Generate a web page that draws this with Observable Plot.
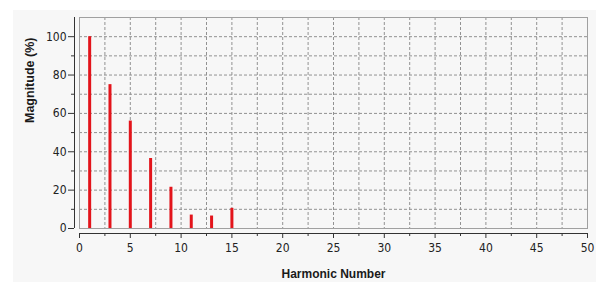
<!DOCTYPE html>
<html>
<head>
<meta charset="utf-8">
<script src="https://cdn.jsdelivr.net/npm/d3@7"></script>
<script src="https://cdn.jsdelivr.net/npm/@observablehq/plot@0.6"></script>
<style>
  html, body { margin: 0; padding: 0; background: #ffffff; width: 596px; height: 282px; overflow: hidden; }
  #chart { position: absolute; left: 13px; top: 10px; width: 583px; height: 272px; background: #f7f7f7; }
  #chart svg { background: transparent; display: block; font-stretch: condensed; }
</style>
</head>
<body>
<div id="chart"></div>
<script>
// Data
const harmonics = [1, 3, 5, 7, 9, 11, 13, 15];
const magnitudes = [100, 75, 56, 36.5, 21.5, 7, 6.5, 10.5];

// Tick labels / ticks
const xTicks = [0, 5, 10, 15, 20, 25, 30, 35, 40, 45, 50];
const xMinorTicks = [2.5, 7.5, 12.5, 17.5, 22.5, 27.5, 32.5, 37.5, 42.5, 47.5];
const yTicks = [0, 20, 40, 60, 80, 100];
const yMinorTicks = [10, 30, 50, 70, 90];

const xTitle = "Harmonic Number";
const yTitle = "Magnitude (%)";

const data = harmonics.map((h, i) => ({h, m: magnitudes[i]}));
const xGrid = xTicks.concat(xMinorTicks).filter(v => v > 0 && v < 50);
const yGrid = yTicks.concat(yMinorTicks).filter(v => v > 0);

const font = "'Liberation Sans Narrow', 'Arial Narrow', 'DejaVu Sans Condensed', 'DejaVu Sans', sans-serif";

const chart = Plot.plot({
  width: 583,
  height: 272,
  marginLeft: 66,
  marginRight: 9,
  marginTop: 7,
  marginBottom: 54,
  style: {background: "transparent", fontFamily: font, fontSize: "12px", color: "#222"},
  x: {domain: [0, 50], axis: null},
  y: {domain: [0, 110], axis: null},
  marks: [
    Plot.gridX(xGrid, {stroke: "#929292", strokeOpacity: 1, strokeDasharray: "3,2"}),
    Plot.gridY(yGrid, {stroke: "#929292", strokeOpacity: 1, strokeDasharray: "3,2"}),
    Plot.frame({stroke: "#a0a0a0"}),
    Plot.ruleX(data, {x: "h", y1: 0, y2: "m", stroke: "#e3141b", strokeWidth: 3}),
    // axis lines
    Plot.ruleX([0], {dx: -5, stroke: "#333"}),
    Plot.ruleY([0], {dy: 5, stroke: "#333"}),
    // y axis
    Plot.axisY(yTicks, {anchor: "left", tickSize: 6, tickPadding: 2, dx: -5, label: null, stroke: "#333", fill: "#222", fontSize: 12}),
    Plot.axisY(yMinorTicks, {anchor: "left", tickSize: 3, dx: -5, label: null, tickFormat: () => "", stroke: "#333"}),
    // x axis
    Plot.axisX(xTicks, {anchor: "bottom", tickSize: 5, tickPadding: 5, dy: 5, label: null, stroke: "#333", fill: "#222", fontSize: 12}),
    Plot.axisX(xMinorTicks, {anchor: "bottom", tickSize: 3, dy: 5, label: null, tickFormat: () => "", stroke: "#333"}),
    // titles
    Plot.text([xTitle], {frameAnchor: "bottom", dy: 49, fontFamily: "'Liberation Sans', Arial, sans-serif", fontWeight: "bold", fontSize: 12, fill: "#1a1a1a"}),
    Plot.text([yTitle], {frameAnchor: "left", dx: -50, rotate: -90, fontFamily: "'Liberation Sans', Arial, sans-serif", fontWeight: "bold", fontSize: 12.5, fill: "#1a1a1a"})
  ]
});
document.getElementById("chart").appendChild(chart);
</script>
</body>
</html>
